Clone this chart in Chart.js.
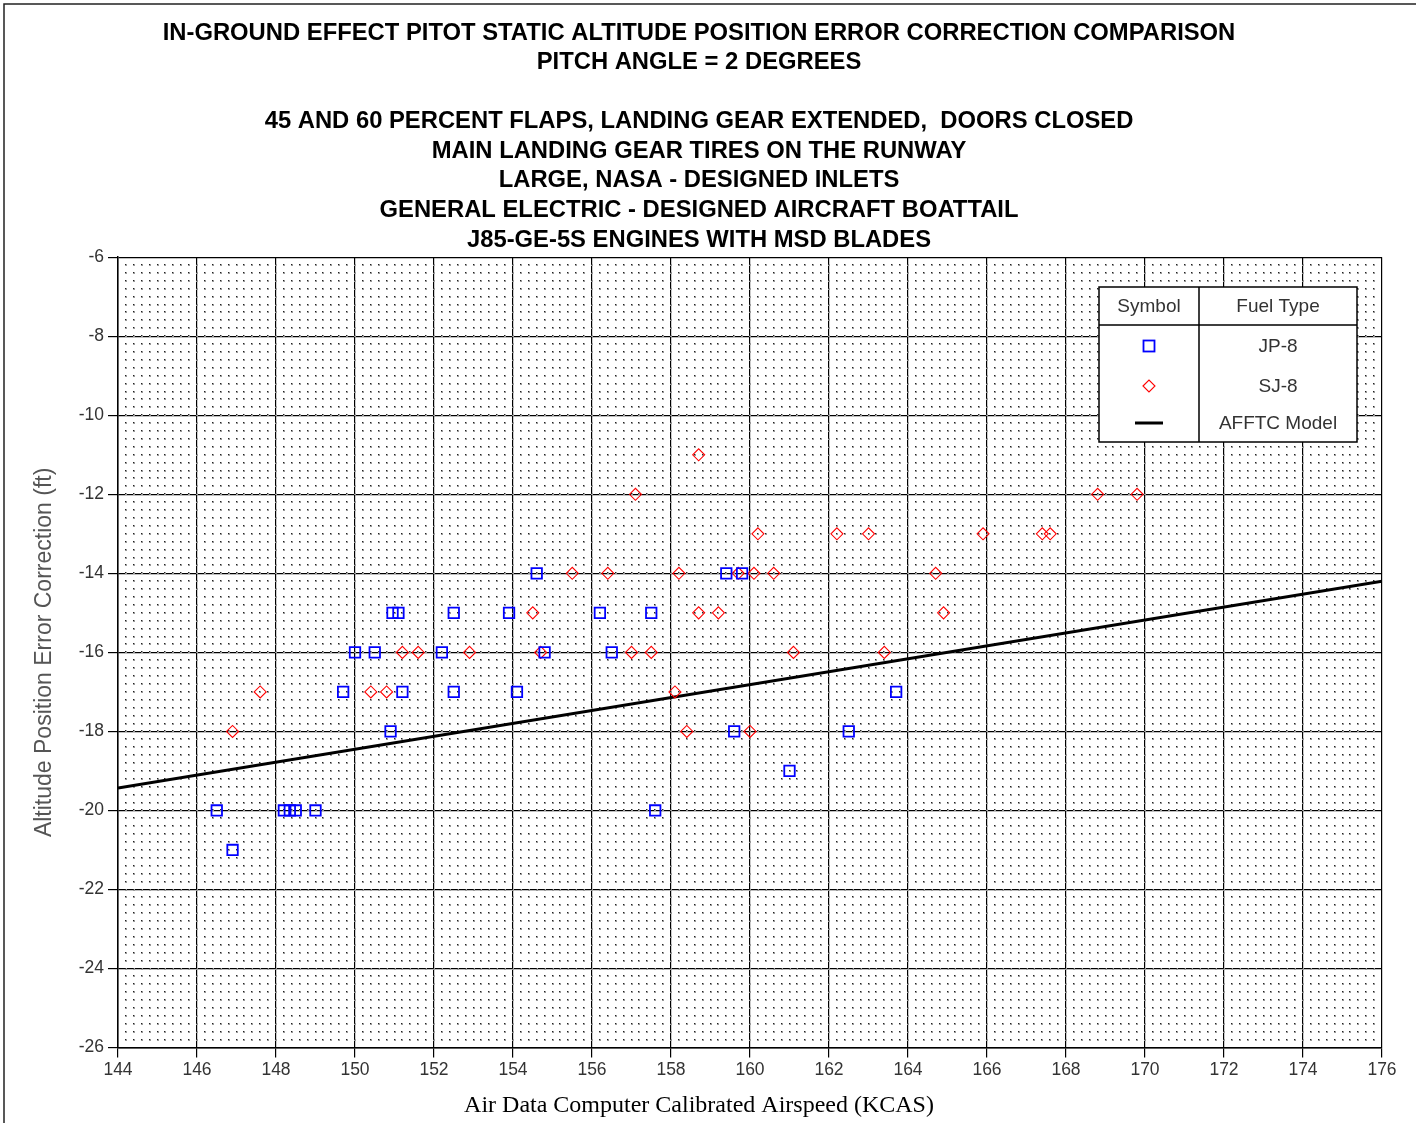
<!DOCTYPE html>
<html>
<head>
<meta charset="utf-8">
<title>In-Ground Effect Pitot Static Altitude Position Error Correction Comparison</title>
<script src="https://cdn.jsdelivr.net/npm/chart.js@4/dist/chart.umd.min.js"></script>
<style>
  html, body { margin: 0; padding: 0; background: #fff; }
  #wrap { width: 1416px; height: 1123px; position: relative; }
</style>
</head>
<body>
<div id="wrap"><canvas id="chart" width="1416" height="1123"></canvas></div>
<script>
// Chart text
const titleLines = [
  'IN-GROUND EFFECT PITOT STATIC ALTITUDE POSITION ERROR CORRECTION COMPARISON',
  'PITCH ANGLE = 2 DEGREES',
  '',
  '45 AND 60 PERCENT FLAPS, LANDING GEAR EXTENDED,  DOORS CLOSED',
  'MAIN LANDING GEAR TIRES ON THE RUNWAY',
  'LARGE, NASA - DESIGNED INLETS',
  'GENERAL ELECTRIC - DESIGNED AIRCRAFT BOATTAIL',
  'J85-GE-5S ENGINES WITH MSD BLADES'
];
const xAxisTitle = 'Air Data Computer Calibrated Airspeed (KCAS)';
const yAxisTitle = 'Altitude Position Error Correction (ft)';

// Axis ranges / tick spacing
const xRange = [144, 176];
const yRange = [-26, -6];
const majorStep = 2;
const minorStep = 0.2;

// JP-8 flight data (KCAS, ft)
const jp8Kcas = [146.5, 146.9, 148.2, 148.35, 148.5, 149.0, 149.7, 150.0, 150.5, 150.9,
                 150.95, 151.1, 151.2, 152.2, 152.5, 152.5, 153.9, 154.1, 154.6, 154.8,
                 156.2, 156.5, 157.5, 157.6, 159.4, 159.6, 159.8, 161.0, 162.5, 163.7];
const jp8Pec  = [-20, -21, -20, -20, -20, -20, -17, -16, -16, -18,
                 -15, -15, -17, -16, -15, -17, -15, -17, -14, -16,
                 -15, -16, -15, -20, -14, -18, -14, -19, -18, -17];

// SJ-8 flight data (KCAS, ft)
const sj8Kcas = [146.9, 147.6, 150.4, 150.8, 151.2, 151.6, 152.9, 154.5, 154.7, 155.5,
                 156.4, 157.0, 157.1, 157.5, 158.1, 158.2, 158.4, 158.7, 158.7, 159.2,
                 159.7, 160.0, 160.1, 160.2, 160.6, 161.1, 162.2, 163.0, 163.4, 164.7,
                 164.9, 165.9, 167.4, 167.6, 168.8, 169.8];
const sj8Pec  = [-18, -17, -17, -17, -16, -16, -16, -15, -16, -14,
                 -14, -16, -12, -16, -17, -14, -18, -11, -15, -15,
                 -14, -18, -14, -13, -14, -16, -13, -13, -16, -14,
                 -15, -13, -13, -13, -12, -12];

// AFFTC model line
const modelKcas = [144, 176];
const modelPec  = [-19.43, -14.2];

// Legend table rows
const legendHeaders = ['Symbol', 'Fuel Type'];
const legendLabels = ['JP-8', 'SJ-8', 'AFFTC Model'];

const toPoints = (xs, ys) => xs.map((x, i) => ({ x: x, y: ys[i] }));

const jp8Style = { pointStyle: 'rect', radius: 7.4, borderColor: '#0000ff', borderWidth: 1.8 };
const sj8Style = { pointStyle: 'rectRot', radius: 6, borderColor: '#ff0000', borderWidth: 1.1 };

// Dotted minor grid at 0.2-unit spacing
const minorDots = {
  id: 'minorDots',
  beforeDatasetsDraw(chart) {
    const { ctx, scales } = chart;
    const xs = scales.x, ys = scales.y;
    ctx.save();
    const nx = Math.round((xRange[1] - xRange[0]) / minorStep);
    const ny = Math.round((yRange[1] - yRange[0]) / minorStep);
    for (let i = 1; i < nx; i++) {
      const px = Math.round(xs.getPixelForValue(xRange[0] + i * minorStep));
      for (let j = 1; j < ny; j++) {
        const py = Math.round(ys.getPixelForValue(yRange[0] + j * minorStep));
        ctx.fillStyle = '#999';
        ctx.fillRect(px - 1, py - 1, 2, 2);
        ctx.fillStyle = '#222';
        ctx.fillRect(px - 1, py - 1, 1, 1);
      }
    }
    ctx.restore();
  }
};

// Outer frame along the top and left edge
const frame = {
  id: 'frame',
  afterDraw(chart) {
    const ctx = chart.ctx;
    ctx.save();
    ctx.strokeStyle = '#222';
    ctx.lineWidth = 1.5;
    ctx.beginPath();
    ctx.moveTo(4, chart.height);
    ctx.lineTo(4, 4);
    ctx.lineTo(chart.width, 4);
    ctx.stroke();
    ctx.restore();
  }
};

// Symbol / Fuel Type table
const legendTable = {
  id: 'legendTable',
  afterDatasetsDraw(chart) {
    const ctx = chart.ctx;
    const left = 1099, top = 287, right = 1357, bottom = 442;
    const divX = 1199, headBottom = 325;
    const rowY = [346, 386, 423];
    const symX = (left + divX) / 2, txtX = (divX + right) / 2;
    ctx.save();
    ctx.fillStyle = '#fff';
    ctx.fillRect(left, top, right - left, bottom - top);
    ctx.strokeStyle = '#000';
    ctx.lineWidth = 1.5;
    ctx.strokeRect(left, top, right - left, bottom - top);
    ctx.beginPath();
    ctx.moveTo(left, headBottom); ctx.lineTo(right, headBottom);
    ctx.moveTo(divX, top); ctx.lineTo(divX, bottom);
    ctx.stroke();

    ctx.fillStyle = '#333';
    ctx.font = '19px "Liberation Sans", Arial, sans-serif';
    ctx.textAlign = 'center';
    ctx.textBaseline = 'middle';
    ctx.fillText(legendHeaders[0], symX, (top + headBottom) / 2 + 1);
    ctx.fillText(legendHeaders[1], txtX, (top + headBottom) / 2 + 1);
    legendLabels.forEach((t, i) => ctx.fillText(t, txtX, rowY[i] + 1));

    // symbols
    ctx.lineWidth = jp8Style.borderWidth;
    ctx.strokeStyle = jp8Style.borderColor;
    ctx.strokeRect(symX - 5.5, rowY[0] - 5.5, 11, 11);
    ctx.lineWidth = sj8Style.borderWidth;
    ctx.strokeStyle = sj8Style.borderColor;
    ctx.beginPath();
    ctx.moveTo(symX - 6, rowY[1]); ctx.lineTo(symX, rowY[1] - 6);
    ctx.lineTo(symX + 6, rowY[1]); ctx.lineTo(symX, rowY[1] + 6);
    ctx.closePath();
    ctx.stroke();
    ctx.lineWidth = 3;
    ctx.strokeStyle = '#000';
    ctx.beginPath();
    ctx.moveTo(symX - 14, rowY[2]); ctx.lineTo(symX + 14, rowY[2]);
    ctx.stroke();
    ctx.restore();
  }
};

const tickFont = { family: '"Liberation Sans", Arial, sans-serif', size: 17.5 };

new Chart(document.getElementById('chart'), {
  type: 'scatter',
  data: {
    datasets: [
      {
        label: 'AFFTC Model',
        type: 'line',
        data: toPoints(modelKcas, modelPec),
        borderColor: '#000',
        borderWidth: 3,
        pointRadius: 0,
        fill: false,
        order: 3
      },
      {
        label: 'SJ-8',
        data: toPoints(sj8Kcas, sj8Pec),
        pointStyle: sj8Style.pointStyle,
        pointRadius: sj8Style.radius,
        pointBorderColor: sj8Style.borderColor,
        pointBorderWidth: sj8Style.borderWidth,
        pointBackgroundColor: 'rgba(0,0,0,0)',
        order: 2
      },
      {
        label: 'JP-8',
        data: toPoints(jp8Kcas, jp8Pec),
        pointStyle: jp8Style.pointStyle,
        pointRadius: jp8Style.radius,
        pointBorderColor: jp8Style.borderColor,
        pointBorderWidth: jp8Style.borderWidth,
        pointBackgroundColor: 'rgba(0,0,0,0)',
        order: 1
      }
    ]
  },
  options: {
    responsive: false,
    animation: false,
    devicePixelRatio: 1,
    layout: { padding: { left: 16, right: 34, top: 0, bottom: 2.6 } },
    plugins: {
      legend: { display: false },
      tooltip: { enabled: false },
      title: {
        display: true,
        text: titleLines,
        color: '#000',
        font: { family: '"Liberation Sans", Arial, sans-serif', size: 23.8, weight: 'bold', lineHeight: 1.243 },
        padding: { top: 18.2, bottom: 2.3 }
      },
      subtitle: {
        display: true,
        position: 'bottom',
        text: xAxisTitle,
        color: '#000',
        font: { family: '"Liberation Serif", "Times New Roman", serif', size: 24, lineHeight: 1.2 },
        padding: { top: 4, bottom: 0 }
      }
    },
    scales: {
      x: {
        type: 'linear',
        min: xRange[0],
        max: xRange[1],
        afterFit(scale) { scale.height = 40; },
        ticks: { stepSize: majorStep, color: '#333', font: tickFont, padding: 2, maxRotation: 0 },
        grid: { color: '#000', lineWidth: 1.2, tickLength: 10, tickColor: '#000', tickWidth: 1.2 },
        border: { display: true, color: '#000', width: 1.5 }
      },
      y: {
        type: 'linear',
        min: yRange[0],
        max: yRange[1],
        afterFit(scale) { scale.width = 102; },
        ticks: { stepSize: majorStep, color: '#333', font: tickFont, padding: 4 },
        grid: { color: '#000', lineWidth: 1.2, tickLength: 10, tickColor: '#000', tickWidth: 1.2 },
        border: { display: true, color: '#000', width: 1.5 },
        title: {
          display: true,
          text: yAxisTitle,
          color: '#555',
          font: { family: '"Liberation Sans", Arial, sans-serif', size: 23, lineHeight: 1.2 },
          padding: { top: 15.2, bottom: 0 }
        }
      }
    }
  },
  plugins: [minorDots, legendTable, frame]
});
</script>
</body>
</html>
